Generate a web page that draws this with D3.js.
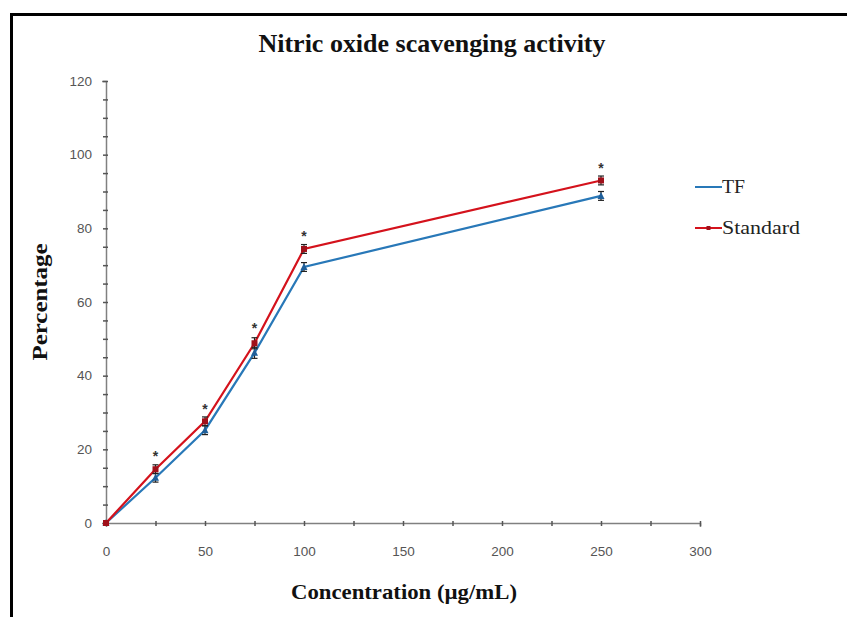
<!DOCTYPE html>
<html><head><meta charset="utf-8">
<script src="https://cdn.jsdelivr.net/npm/d3@7"></script>
<style>body{margin:0;background:#fff;}</style>
</head><body>
<script>
const concentrations = [0, 25, 50, 75, 100, 250];
const tfValues = [0, 12.3, 25.2, 46.2, 69.5, 88.8];
const standardValues = [0, 14.6, 27.6, 48.8, 74.4, 93.0];
const errorTF = [0, 1.2, 1.2, 1.5, 1.2, 1.2];
const errorStd = [0, 1.2, 1.2, 1.5, 1.2, 1.2];
const starValues = [null, 18.5, 31.2, 53.2, 78.2, 96.6];
const xTicks = [0, 50, 100, 150, 200, 250, 300];
const yTicks = [0, 20, 40, 60, 80, 100, 120];
const seriesNames = ["TF", "Standard"];
const seriesColors = ["#2878b8", "#d4121c"];

const W = 847, H = 617;
const svg = d3.select("body").append("svg").attr("width", W).attr("height", H);
svg.append("rect").attr("width", W).attr("height", H).attr("fill", "#fff");
// frame
svg.append("line").attr("x1", 11.5).attr("x2", 11.5).attr("y1", 13).attr("y2", H).attr("stroke", "#000").attr("stroke-width", 3);
svg.append("line").attr("x1", 10).attr("x2", W).attr("y1", 14.5).attr("y2", 14.5).attr("stroke", "#000").attr("stroke-width", 3);

const x = d3.scaleLinear().domain([0, 300]).range([106, 700]);
const y = d3.scaleLinear().domain([0, 120]).range([523, 81]);

const axisColor = "#808080";
const tickFont = "Liberation Sans, Arial, sans-serif";
// y axis
const gy = svg.append("g").attr("transform", `translate(${x(0)},0)`)
  .call(d3.axisLeft(y).tickValues(d3.range(0, 121, 5)).tickSize(4).tickFormat(d => yTicks.includes(d) ? d : ""));
gy.select(".domain").attr("stroke", axisColor).attr("stroke-width", 1.5);
gy.selectAll(".tick line").attr("stroke", "#555").attr("stroke-width", 1.5).attr("x1", 2).attr("x2", -3);
gy.selectAll(".tick text").attr("font-family", tickFont).attr("font-size", 13.5).attr("fill", "#555").attr("x", -14);
// x axis
const gx = svg.append("g").attr("transform", `translate(0,${y(0)})`)
  .call(d3.axisBottom(x).tickValues(d3.range(0, 301, 25)).tickSize(4).tickFormat(d => xTicks.includes(d) ? d : ""));
gx.select(".domain").attr("stroke", axisColor).attr("stroke-width", 1.5);
gx.selectAll(".tick line").attr("stroke", "#555").attr("stroke-width", 1.5).attr("y1", -2).attr("y2", 3);
gx.selectAll(".tick text").attr("font-family", tickFont).attr("font-size", 13.5).attr("fill", "#555").attr("y", 23);

// titles
const serif = "Liberation Serif, Times New Roman, serif";
svg.append("text").attr("x", 432).attr("y", 52).attr("text-anchor", "middle")
  .attr("font-family", serif).attr("font-weight", "bold").attr("font-size", 25)
  .attr("textLength", 347).attr("lengthAdjust", "spacingAndGlyphs")
  .attr("fill", "#111").text("Nitric oxide scavenging activity");
svg.append("text").attr("x", 404).attr("y", 599).attr("text-anchor", "middle")
  .attr("font-family", serif).attr("font-weight", "bold").attr("font-size", 21)
  .attr("textLength", 226).attr("lengthAdjust", "spacingAndGlyphs")
  .attr("fill", "#111").text("Concentration (µg/mL)");
svg.append("text").attr("transform", "translate(47,302) rotate(-90)").attr("text-anchor", "middle")
  .attr("font-family", serif).attr("font-weight", "bold").attr("font-size", 21)
  .attr("textLength", 117).attr("lengthAdjust", "spacingAndGlyphs")
  .attr("fill", "#111").text("Percentage");

const series = [tfValues, standardValues];
const errs = [errorTF, errorStd];
const line = d3.line().x((d, i) => x(concentrations[i])).y(d => y(d));
series.forEach((vals, s) => {
  svg.append("path").datum(vals).attr("d", line).attr("fill", "none")
    .attr("stroke", seriesColors[s]).attr("stroke-width", 2.2);
});
// error bars
series.forEach((vals, s) => {
  vals.forEach((v, i) => {
    if (!errs[s][i]) return;
    const cx = x(concentrations[i]);
    svg.append("line").attr("x1", cx).attr("x2", cx).attr("y1", y(v - errs[s][i])).attr("y2", y(v + errs[s][i])).attr("stroke", "#222").attr("stroke-width", 1.2);
    [v - errs[s][i], v + errs[s][i]].forEach(e => svg.append("line").attr("x1", cx - 3).attr("x2", cx + 3).attr("y1", y(e)).attr("y2", y(e)).attr("stroke", "#222").attr("stroke-width", 1.2));
  });
});
// markers
tfValues.forEach((v, i) => {
  const cx = x(concentrations[i]), cy = y(v);
  svg.append("path").attr("d", `M${cx},${cy - 4}L${cx + 3.5},${cy + 3}L${cx - 3.5},${cy + 3}Z`).attr("fill", "#1f5f9a");
});
standardValues.forEach((v, i) => {
  const cx = x(concentrations[i]), cy = y(v);
  svg.append("rect").attr("x", cx - 3).attr("y", cy - 3).attr("width", 6).attr("height", 6).attr("fill", "#a0101a");
});
// significance stars
starValues.forEach((v, i) => {
  if (v == null) return;
  svg.append("text").attr("x", x(concentrations[i])).attr("y", y(v) + 6).attr("text-anchor", "middle")
    .attr("font-family", tickFont).attr("font-size", 14).attr("font-weight", "bold").attr("fill", "#333").text("*");
});

// legend
const legY = [187, 228];
const legW = [23, 78];
seriesNames.forEach((n, s) => {
  svg.append("line").attr("x1", 695).attr("x2", 722).attr("y1", legY[s]).attr("y2", legY[s]).attr("stroke", seriesColors[s]).attr("stroke-width", 2);
  if (s === 1) svg.append("rect").attr("x", 706.5).attr("y", legY[s] - 2).attr("width", 4).attr("height", 4).attr("fill", "#a0101a");
  svg.append("text").attr("x", 722).attr("y", legY[s] + 6).attr("font-family", serif)
    .attr("font-size", 18).attr("textLength", legW[s]).attr("lengthAdjust", "spacingAndGlyphs")
    .attr("fill", "#222").text(n);
});
</script>
</body></html>
